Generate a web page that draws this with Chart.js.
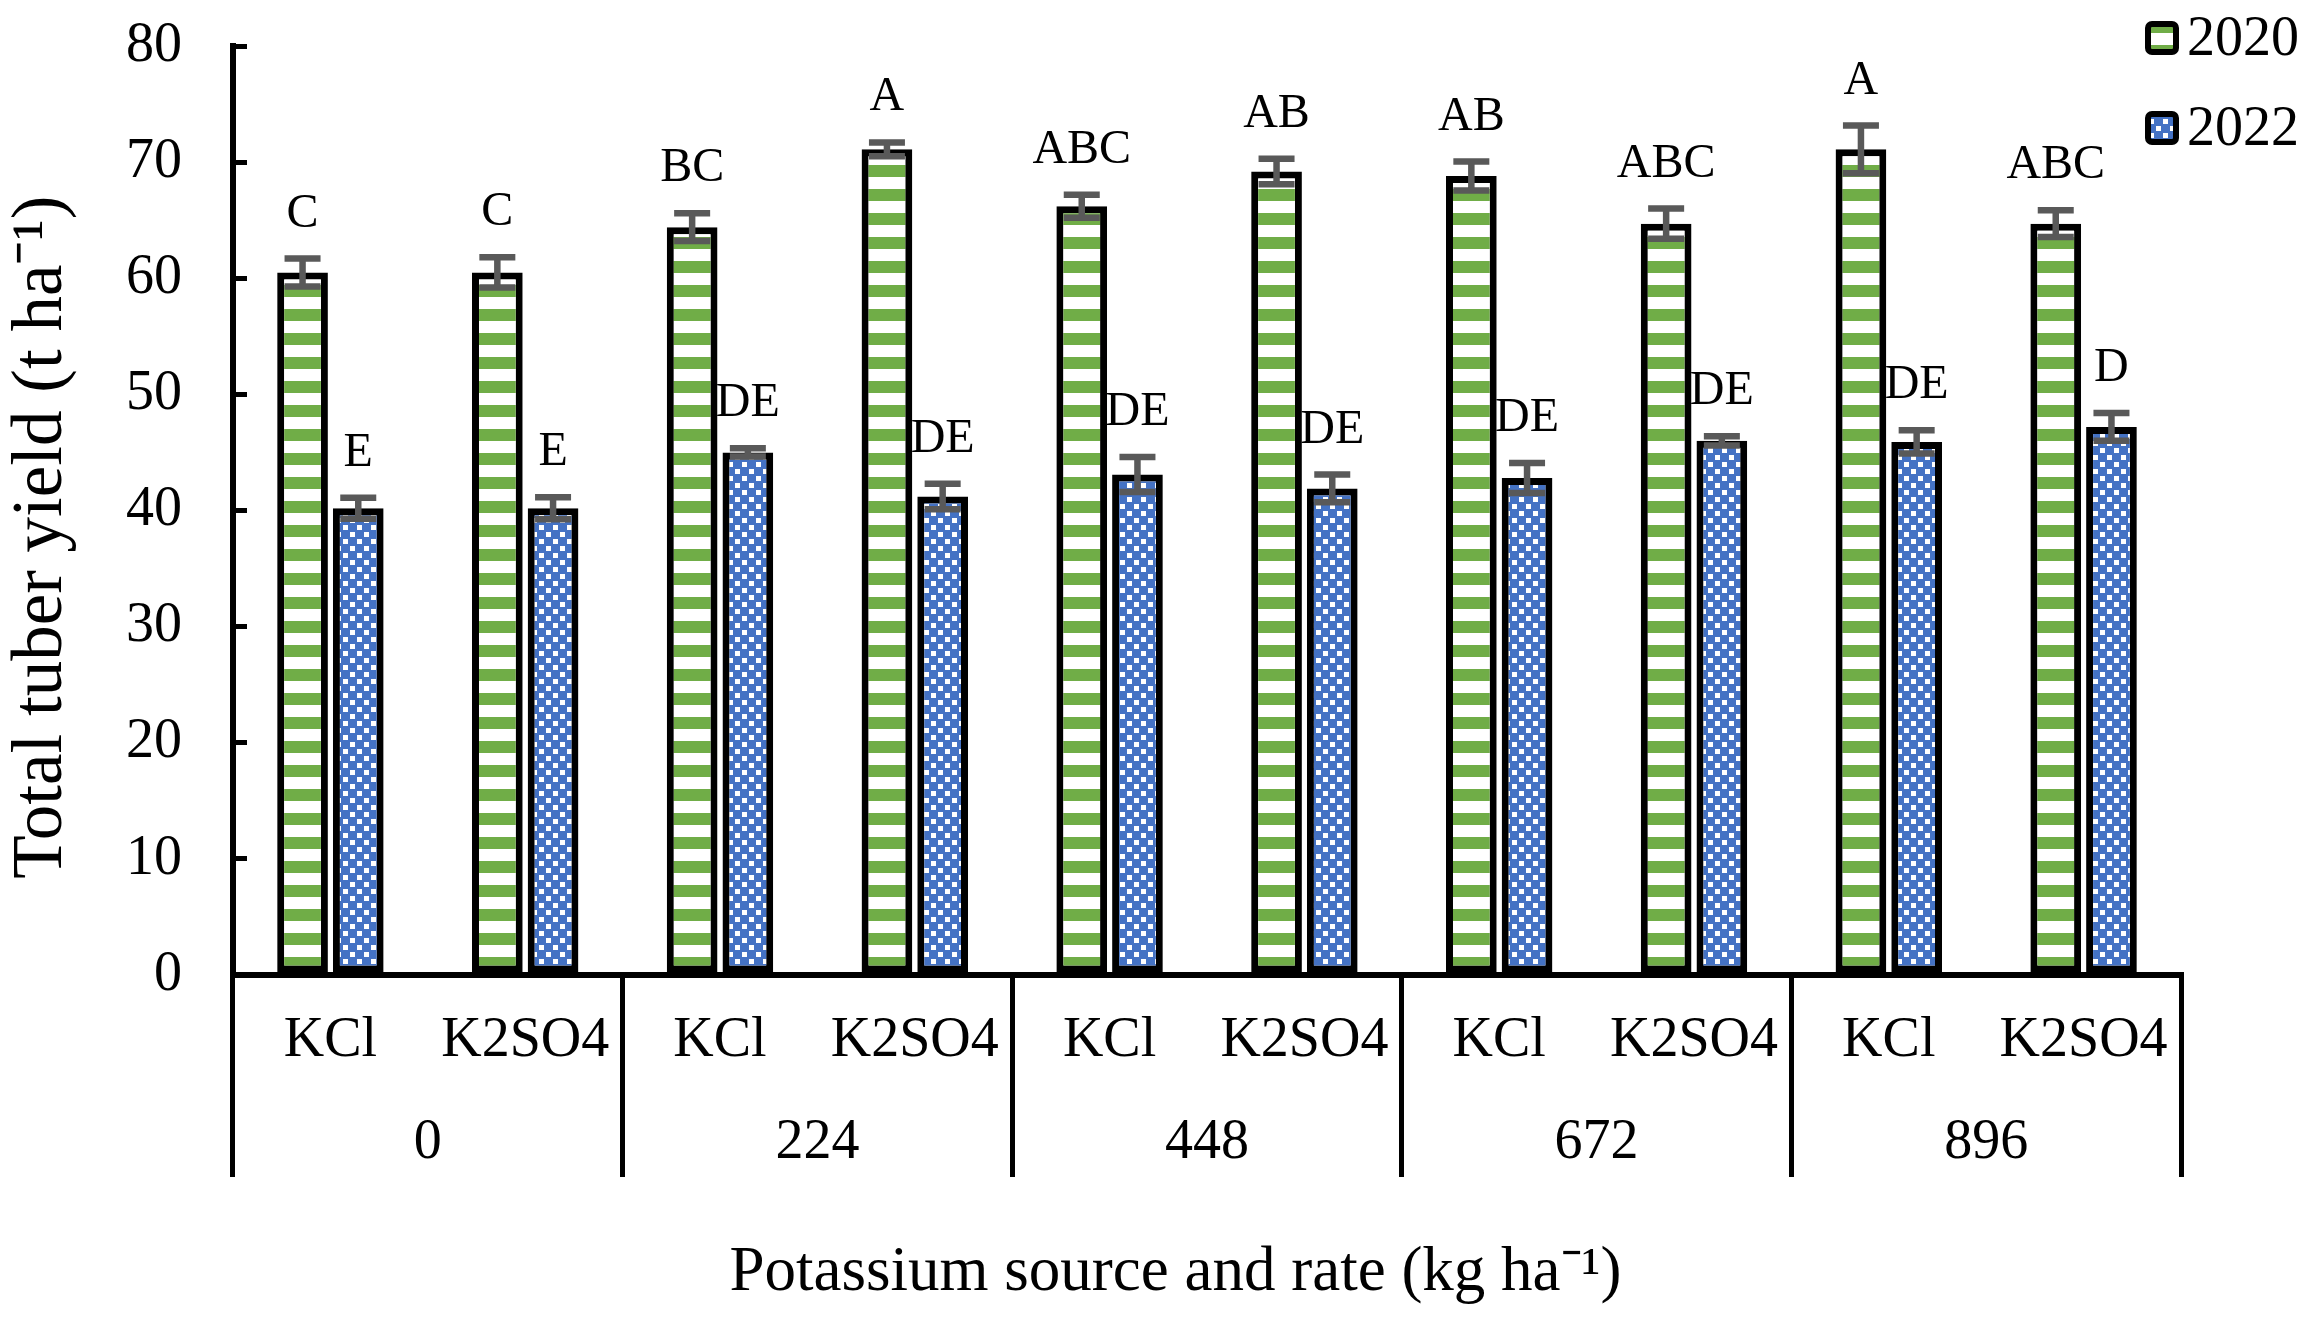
<!DOCTYPE html>
<html>
<head>
<meta charset="utf-8">
<script src="https://cdn.jsdelivr.net/npm/chart.js@4.4.1/dist/chart.umd.min.js"></script>
<style>
  html, body { margin: 0; padding: 0; background: #fff; overflow: hidden; }
  canvas { display: block; }
</style>
</head>
<body>
<canvas id="chart" width="2314" height="1319"></canvas>
<script>
// data
const sources   = ['KCl', 'K2SO4', 'KCl', 'K2SO4', 'KCl', 'K2SO4', 'KCl', 'K2SO4', 'KCl', 'K2SO4'];
const rates     = ['0', '224', '448', '672', '896'];
const yield2020 = [60.5, 60.5, 64.4, 71.1, 66.2, 69.2, 68.8, 64.7, 71.1, 64.7];
const err2020   = [1.2, 1.3, 1.2, 0.6, 1.0, 1.1, 1.25, 1.3, 2.05, 1.15];
const yield2022 = [40.2, 40.2, 45.0, 41.2, 43.1, 41.9, 42.8, 46.0, 45.9, 47.2];
const err2022   = [0.9, 0.95, 0.35, 1.1, 1.5, 1.2, 1.3, 0.4, 1.0, 1.2];
const sig2020   = ['C', 'C', 'BC', 'A', 'ABC', 'AB', 'AB', 'ABC', 'A', 'ABC'];
const sig2022   = ['E', 'E', 'DE', 'DE', 'DE', 'DE', 'DE', 'DE', 'DE', 'D'];
const yTicks    = [0, 10, 20, 30, 40, 50, 60, 70, 80];

const FONT = "'Liberation Serif', 'Times New Roman', serif";
Chart.defaults.font.family = FONT;
Chart.defaults.color = '#000';

const canvas = document.getElementById('chart');
const ctx = canvas.getContext('2d');

// green horizontal stripes
function stripePattern() {
    const c = document.createElement('canvas');
    c.width = 24; c.height = 24;
    const g = c.getContext('2d');
    g.fillStyle = '#fff';
    g.fillRect(0, 0, 24, 24);
    g.fillStyle = '#70AD47';
    g.fillRect(0, 0, 24, 9);
    g.fillRect(0, 21, 24, 3);
    return ctx.createPattern(c, 'repeat');
}

// blue checker
function checkPattern() {
    const c = document.createElement('canvas');
    c.width = 14; c.height = 14;
    const g = c.getContext('2d');
    g.fillStyle = '#4472C4';
    g.fillRect(0, 0, 14, 14);
    g.fillStyle = '#fff';
    g.fillRect(0, 0, 5, 5);
    g.fillRect(7, 7, 5, 5);
    return ctx.createPattern(c, 'repeat');
}

const errors  = [err2020, err2022];
const letters = [sig2020, sig2022];

const errorBars = {
    id: 'errorBars',
    afterDatasetsDraw(chart) {
        const y = chart.scales.y;
        const c = chart.ctx;
        c.save();
        chart.data.datasets.forEach((ds, i) => {
            const meta = chart.getDatasetMeta(i);
            meta.data.forEach((bar, j) => {
                const v = ds.data[j];
                const e = errors[i][j];
                const top = y.getPixelForValue(v + e);
                const bot = y.getPixelForValue(v - e);
                c.strokeStyle = '#595959';
                c.lineWidth = 6.5;
                c.beginPath();
                c.moveTo(bar.x, top); c.lineTo(bar.x, bot);
                c.moveTo(bar.x - 18, top); c.lineTo(bar.x + 18, top);
                c.moveTo(bar.x - 18, bot); c.lineTo(bar.x + 18, bot);
                c.stroke();

                c.fillStyle = '#000';
                c.font = '48px ' + FONT;
                c.textAlign = 'center';
                c.textBaseline = 'alphabetic';
                c.fillText(letters[i][j], bar.x, top - 32);
            });
        });
        c.restore();
    }
};

const sideLegend = {
    id: 'sideLegend',
    afterDraw(chart) {
        const c = chart.ctx;
        const x = chart.width - 169;
        c.save();
        chart.data.datasets.forEach((ds, i) => {
            const cy = 38 + i * 90;
            c.beginPath();
            c.roundRect(x + 3, cy - 14, 28, 28, 4);
            c.fillStyle = ds.backgroundColor;
            c.fill();
            c.lineWidth = 6;
            c.strokeStyle = '#000';
            c.stroke();
            c.fillStyle = '#000';
            c.font = '56px ' + FONT;
            c.textAlign = 'left';
            c.textBaseline = 'middle';
            c.fillText(ds.label, x + 42, cy + 2);
        });
        c.restore();
    }
};

new Chart(ctx, {
    type: 'bar',
    data: {
        labels: sources,
        datasets: [
            {
                label: '2020',
                data: yield2020,
                backgroundColor: stripePattern(),
                borderColor: '#000',
                borderWidth: 7,
                borderSkipped: false
            },
            {
                label: '2022',
                data: yield2022,
                backgroundColor: checkPattern(),
                borderColor: '#000',
                borderWidth: 7,
                borderSkipped: false
            }
        ]
    },
    options: {
        responsive: false,
        devicePixelRatio: 1,
        animation: false,
        categoryPercentage: 0.572,
        barPercentage: 0.91,
        layout: { padding: { left: 0, right: 133, top: 46, bottom: 0 } },
        plugins: {
            legend: { display: false },
            tooltip: { enabled: false }
        },
        scales: {
            y: {
                min: 0,
                max: 80,
                afterBuildTicks: (s) => { s.ticks = yTicks.map(v => ({ value: v })); },
                afterFit: (s) => {
                    s.width = 233;
                    s.paddingTop = 0;
                    s.paddingBottom = 0;
                },
                ticks: { font: { size: 56 }, padding: 65 },
                grid: {
                    drawOnChartArea: false,
                    drawTicks: true,
                    tickLength: -14,
                    color: '#000',
                    lineWidth: 5
                },
                border: { display: true, color: '#000', width: 6 },
                title: {
                    display: true,
                    text: 'Total tuber yield (t ha⁻¹)\u00A0\u00A0\u00A0',
                    font: { size: 71 },
                    padding: { top: 0, bottom: 0 }
                }
            },
            x: {
                weight: 0,
                afterFit: (s) => {
                    s.height = 110;
                    s.paddingLeft = 0;
                    s.paddingRight = 0;
                },
                ticks: {
                    font: { size: 56 },
                    autoSkip: false,
                    maxRotation: 0,
                    padding: 33 - 202
                },
                grid: {
                    offset: true,
                    drawOnChartArea: false,
                    drawTicks: true,
                    tickLength: 202,
                    lineWidth: 5,
                    // a line at every group edge (every second category edge, plus the far end)
                    color: (c) => (c.type !== 'tick' || c.index % 2 === 0 ? '#000' : 'rgba(0,0,0,0)')
                },
                border: { display: true, color: '#000', width: 6 }
            },
            x2: {
                type: 'category',
                position: 'bottom',
                weight: 1,
                labels: rates,
                offset: true,
                afterFit: (s) => {
                    s.height = 234;
                    s.paddingLeft = 0;
                    s.paddingRight = 0;
                },
                ticks: { font: { size: 56 }, padding: 17, autoSkip: false, maxRotation: 0 },
                grid: { display: false },
                border: { display: false },
                title: {
                    display: true,
                    text: 'Potassium source and rate (kg ha⁻¹)\u00A0\u00A0\u00A0\u00A0',
                    font: { size: 63 },
                    padding: { top: 0, bottom: 8 }
                }
            }
        }
    },
    plugins: [errorBars, sideLegend]
});
</script>
</body>
</html>
